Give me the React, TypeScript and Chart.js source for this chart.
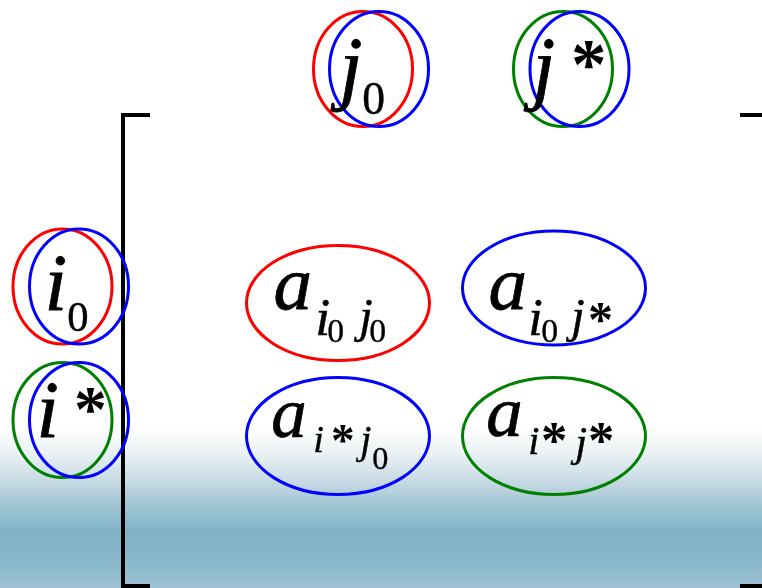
import React, { useEffect, useRef } from "react";
import { Chart, registerables } from "chart.js";

Chart.register(...registerables);

// Diagram coordinate space (x: 0..762, y: 0..588 top-down)
const X_MAX = 762;
const Y_MAX = 588;

// Matrix brackets
const leftBracketX = [150, 123, 123, 150];
const leftBracketY = [115, 115, 586, 586];
const rightBracketX = [740, 766, 766, 740];
const rightBracketY = [115, 115, 586, 586];

// Ellipses (centre, radii, colour)
const ellipseCX = [363, 379, 563, 579.5, 62.5, 79, 62.5, 79, 338, 554, 338, 554];
const ellipseCY = [69, 69, 69, 69, 286.5, 286.5, 420, 420, 303, 288, 436, 436];
const ellipseRX = [49.5, 49.5, 49.5, 49.5, 49.5, 49.5, 49.5, 49.5, 91.5, 91.5, 91.5, 91.5];
const ellipseRY = [57.5, 57.5, 57.5, 57.5, 57.5, 57.5, 57.5, 57.5, 57.5, 57, 58.5, 58.5];
const ellipseColor = [
  "#ff0000", "#0000ff", "#008000", "#0000ff",
  "#ff0000", "#0000ff", "#008000", "#0000ff",
  "#ff0000", "#0000ff", "#0000ff", "#008000",
];

// Glyphs of the labels: text, ink box (left, top, bottom), kind
const glyphText = [
  "j", "0", "j", "*",
  "i", "0", "i", "*",
  "a", "i", "0", "j", "0",
  "a", "i", "0", "j", "*",
  "a", "i", "*", "j", "0",
  "a", "i", "*", "j", "*",
];
const glyphLeft = [
  330, 363, 523, 573,
  48, 68, 40, 76,
  275, 317, 328, 353, 370,
  490, 530, 542, 565, 590,
  273, 315, 332, 355, 373,
  488, 530, 543, 570, 590,
];
const glyphTop = [
  39, 83, 39, 41,
  256, 303, 383, 388,
  273, 300, 320, 300, 320,
  273, 300, 320, 300, 303,
  403, 427, 425, 427, 448,
  402, 428, 423, 428, 423,
];
const glyphBottom = [
  111, 114, 110, 68,
  310.5, 332, 437, 413,
  310, 336, 343, 342, 343,
  310, 335, 343, 342, 322,
  437, 453, 443, 462, 470,
  437, 455, 443, 465, 443,
];
const glyphKind = [
  "it", "num", "it", "star",
  "it", "num", "it", "star",
  "it", "it", "num", "it", "num",
  "it", "it", "num", "it", "star",
  "it", "it", "star", "it", "num",
  "it", "it", "star", "it", "star",
];

const FAMILY = '"Liberation Serif", "Times New Roman", serif';

function fontFor(kind: string, size: number) {
  if (kind === "it") return `italic ${size}px ${FAMILY}`;
  if (kind === "star") return `bold ${size}px ${FAMILY}`;
  return `${size}px ${FAMILY}`;
}

const backgroundPlugin = {
  id: "bgGradient",
  beforeDraw(chart: any) {
    const { ctx } = chart;
    const ys = chart.scales.y;
    const w = chart.width;
    const h = chart.height;
    const y0 = ys.getPixelForValue(428);
    const y1 = ys.getPixelForValue(588);
    ctx.save();
    ctx.fillStyle = "#ffffff";
    ctx.fillRect(0, 0, w, h);
    const g = ctx.createLinearGradient(0, y0, 0, y1);
    g.addColorStop(0, "#ffffff");
    g.addColorStop(0.16, "#eaf1f4");
    g.addColorStop(0.32, "#cadce5");
    g.addColorStop(0.48, "#a2c5d4");
    g.addColorStop(0.64, "#81b3c9");
    g.addColorStop(0.8, "#86b6cb");
    g.addColorStop(1, "#9ec2d3");
    ctx.fillStyle = g;
    ctx.fillRect(0, y0, w, h - y0);
    ctx.restore();
  },
};

const ellipsePlugin = {
  id: "ellipses",
  afterDatasetsDraw(chart: any) {
    const { ctx } = chart;
    const xs = chart.scales.x;
    const ys = chart.scales.y;
    const idx = chart.data.datasets.findIndex((d: any) => d.label === "ellipses");
    const meta = chart.getDatasetMeta(idx);
    ctx.save();
    ctx.lineWidth = 3;
    meta.data.forEach((pt: any, i: number) => {
      const rx = Math.abs(xs.getPixelForValue(ellipseCX[i] + ellipseRX[i]) - pt.x);
      const ry = Math.abs(ys.getPixelForValue(ellipseCY[i] + ellipseRY[i]) - pt.y);
      ctx.beginPath();
      ctx.ellipse(pt.x, pt.y, rx, ry, 0, 0, Math.PI * 2);
      ctx.strokeStyle = ellipseColor[i];
      ctx.stroke();
    });
    ctx.restore();
  },
};

const textPlugin = {
  id: "mathText",
  afterDatasetsDraw(chart: any) {
    const { ctx } = chart;
    const xs = chart.scales.x;
    const ys = chart.scales.y;
    ctx.save();
    ctx.fillStyle = "#000000";
    ctx.strokeStyle = "#000000";
    ctx.lineJoin = "round";
    ctx.textAlign = "left";
    ctx.textBaseline = "alphabetic";
    glyphText.forEach((t, i) => {
      const kind = glyphKind[i];
      const left = xs.getPixelForValue(glyphLeft[i]);
      const top = ys.getPixelForValue(glyphTop[i]);
      const bottom = ys.getPixelForValue(glyphBottom[i]);
      ctx.font = fontFor(kind, 100);
      let m = ctx.measureText(t);
      const hRef = m.actualBoundingBoxAscent + m.actualBoundingBoxDescent;
      const size = (100 * (bottom - top)) / hRef;
      ctx.font = fontFor(kind, size);
      m = ctx.measureText(t);
      const sw = kind === "star" ? 0 : size * 0.01;
      const x = left + m.actualBoundingBoxLeft + sw / 2;
      const y = top + m.actualBoundingBoxAscent + sw / 2;
      ctx.fillText(t, x, y);
      if (sw > 0) {
        ctx.lineWidth = sw;
        ctx.strokeText(t, x, y);
      }
    });
    ctx.restore();
  },
};

export default function App() {
  const ref = useRef<HTMLCanvasElement | null>(null);

  useEffect(() => {
    if (!ref.current) return;
    const toPts = (xs: number[], ys: number[]) => xs.map((x, i) => ({ x, y: ys[i] }));
    const chart = new Chart(ref.current, {
      type: "scatter",
      data: {
        datasets: [
          {
            label: "leftBracket",
            data: toPts(leftBracketX, leftBracketY),
            showLine: true,
            borderColor: "#000000",
            borderWidth: 4,
            pointRadius: 0,
            borderJoinStyle: "miter",
            borderCapStyle: "butt",
            tension: 0,
          } as any,
          {
            label: "rightBracket",
            data: toPts(rightBracketX, rightBracketY),
            showLine: true,
            borderColor: "#000000",
            borderWidth: 4,
            pointRadius: 0,
            borderJoinStyle: "miter",
            borderCapStyle: "butt",
            tension: 0,
          } as any,
          {
            label: "ellipses",
            data: toPts(ellipseCX, ellipseCY),
            pointRadius: 0,
            showLine: false,
          } as any,
        ],
      },
      options: {
        animation: false,
        responsive: false,
        maintainAspectRatio: false,
        events: [],
        layout: { padding: 0 },
        plugins: { legend: { display: false }, tooltip: { enabled: false } },
        scales: {
          x: { type: "linear", min: 0, max: X_MAX, display: false },
          y: { type: "linear", min: 0, max: Y_MAX, reverse: true, display: false },
        },
      },
      plugins: [backgroundPlugin, ellipsePlugin, textPlugin],
    });
    return () => chart.destroy();
  }, []);

  return (
    <div style={{ position: "fixed", left: 0, top: 0, width: 762, height: 588 }}>
      <canvas ref={ref} width={762} height={588} style={{ width: 762, height: 588, display: "block" }} />
    </div>
  );
}
